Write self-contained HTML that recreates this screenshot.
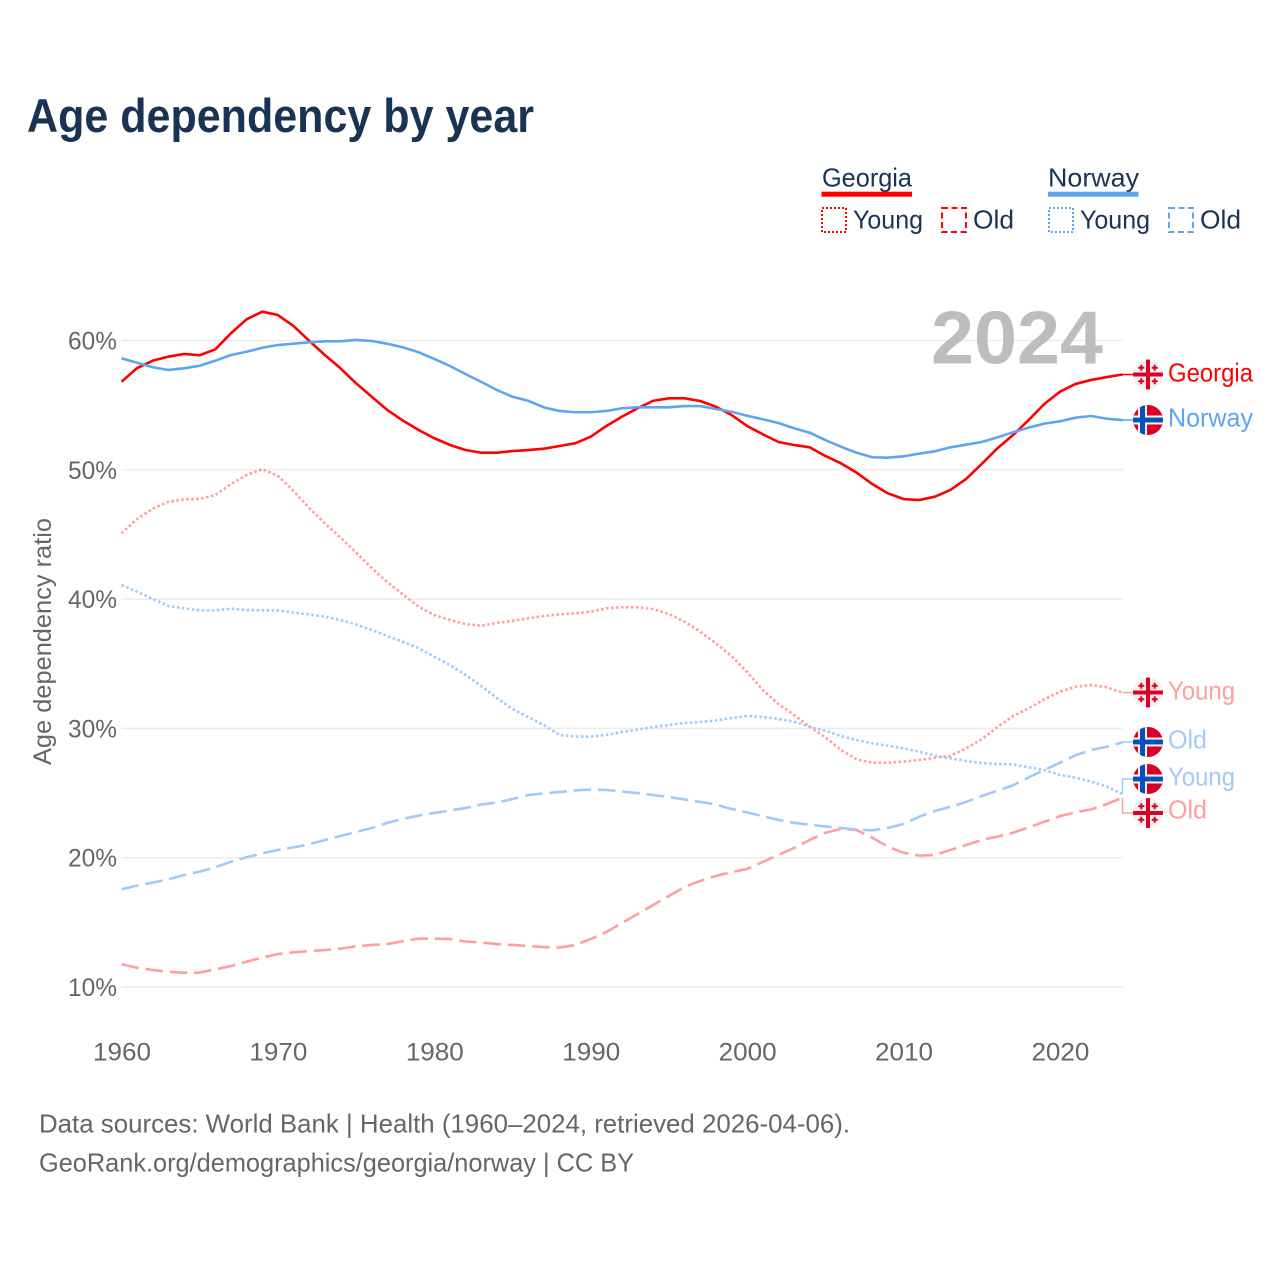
<!DOCTYPE html>
<html lang="en">
<head>
<meta charset="utf-8">
<title>Age dependency by year</title>
<style>
html,body{margin:0;padding:0;background:#fff}
svg{display:block}
text{font-family:"Liberation Sans",sans-serif}
</style>
</head>
<body>
<svg id="chart" xmlns="http://www.w3.org/2000/svg" width="1280" height="1280" viewBox="0 0 1280 1280">
  <defs>
    <clipPath id="flag-clip"><circle cx="0" cy="0" r="15"/></clipPath>
    <g id="flag-georgia" clip-path="url(#flag-clip)">
      <rect x="-15" y="-15" width="30" height="30" fill="#f0f0f0"/>
      <rect x="-2" y="-15" width="4" height="30" fill="#d80027"/>
      <rect x="-15" y="-2" width="30" height="4" fill="#d80027"/>
      <path d="M-7.7-9.7h2v2h2v2h-2v2h-2v-2h-2v-2h2zM5.7-9.7h2v2h2v2h-2v2h-2v-2h-2v-2h2zM-7.7 3.7h2v2h2v2h-2v2h-2v-2h-2v-2h2zM5.7 3.7h2v2h2v2h-2v2h-2v-2h-2v-2h2z" fill="#d80027"/>
    </g>
    <g id="flag-norway" clip-path="url(#flag-clip)">
      <rect x="-15" y="-15" width="30" height="30" fill="#d80027"/>
      <rect x="-10" y="-15" width="9" height="30" fill="#f0f0f0"/>
      <rect x="-15" y="-4.5" width="30" height="9" fill="#f0f0f0"/>
      <rect x="-8" y="-15" width="5" height="30" fill="#0052b4"/>
      <rect x="-15" y="-2.4" width="30" height="4.8" fill="#0052b4"/>
    </g>
  </defs>

  <text x="27" y="132" font-size="47" font-weight="700" fill="#1a3353" textLength="507" lengthAdjust="spacingAndGlyphs">Age dependency by year</text>

  <g>
    <g>
      <text x="822" y="186.5" font-size="26" fill="#1a3353" textLength="90" lengthAdjust="spacingAndGlyphs">Georgia</text>
      <rect x="821.5" y="191.7" width="90.5" height="5" fill="#ff0000"/>
      <rect x="822" y="208" width="24" height="24" fill="none" stroke="#ff0000" stroke-width="2" stroke-dasharray="2 2"/>
      <text x="853" y="228.5" font-size="26" fill="#1a3353" textLength="70" lengthAdjust="spacingAndGlyphs">Young</text>
      <rect x="942" y="208" width="24" height="24" fill="none" stroke="#ff0000" stroke-width="2" stroke-dasharray="6 3.5"/>
      <text x="973" y="228.5" font-size="26" fill="#1a3353" textLength="41" lengthAdjust="spacingAndGlyphs">Old</text>
    </g>
    <g>
      <text x="1048" y="186.5" font-size="26" fill="#1a3353" textLength="91" lengthAdjust="spacingAndGlyphs">Norway</text>
      <rect x="1048" y="191.7" width="90.5" height="5" fill="#5fa5ee"/>
      <rect x="1049" y="208" width="24" height="24" fill="none" stroke="#5fa5ee" stroke-width="2" stroke-dasharray="2 2"/>
      <text x="1080" y="228.5" font-size="26" fill="#1a3353" textLength="70" lengthAdjust="spacingAndGlyphs">Young</text>
      <rect x="1169" y="208" width="24" height="24" fill="none" stroke="#5fa5ee" stroke-width="2" stroke-dasharray="6 3.5"/>
      <text x="1200" y="228.5" font-size="26" fill="#1a3353" textLength="41" lengthAdjust="spacingAndGlyphs">Old</text>
    </g>
  </g>

  <g id="grid"></g>
  <g id="y-ticks"></g>
  <g id="x-ticks"></g>

  <text transform="translate(51 641.5) rotate(-90)" text-anchor="middle" font-size="25" fill="#666666" textLength="247" lengthAdjust="spacingAndGlyphs">Age dependency ratio</text>

  <text x="931" y="363.5" font-size="75" font-weight="700" fill="#bdbdbd" textLength="172" lengthAdjust="spacingAndGlyphs">2024</text>

  <g id="series"></g>

  <g>
    <use href="#flag-georgia" x="1148" y="374.5"/>
    <text x="1168" y="381.5" font-size="26" fill="#ff0000" textLength="85" lengthAdjust="spacingAndGlyphs">Georgia</text>
    <use href="#flag-norway" x="1148" y="420"/>
    <text x="1168" y="426.5" font-size="26" fill="#5fa5ee" textLength="85" lengthAdjust="spacingAndGlyphs">Norway</text>
    <use href="#flag-georgia" x="1148" y="692.5"/>
    <text x="1168" y="699.5" font-size="26" fill="#ff9f9f" textLength="67" lengthAdjust="spacingAndGlyphs">Young</text>
    <use href="#flag-norway" x="1148" y="742"/>
    <text x="1168" y="748.5" font-size="26" fill="#a3c9f5" textLength="39" lengthAdjust="spacingAndGlyphs">Old</text>
    <use href="#flag-norway" x="1148" y="779"/>
    <text x="1168" y="785.5" font-size="26" fill="#a3c9f5" textLength="67" lengthAdjust="spacingAndGlyphs">Young</text>
    <use href="#flag-georgia" x="1148" y="813"/>
    <text x="1168" y="818.5" font-size="26" fill="#ff9f9f" textLength="39" lengthAdjust="spacingAndGlyphs">Old</text>
  </g>

  <text x="39" y="1132.5" font-size="26" fill="#666666" textLength="811" lengthAdjust="spacingAndGlyphs">Data sources: World Bank | Health (1960–2024, retrieved 2026-04-06).</text>
  <text x="39" y="1171.5" font-size="26" fill="#666666" textLength="595" lengthAdjust="spacingAndGlyphs">GeoRank.org/demographics/georgia/norway | CC BY</text>
</svg>

<script>
const years = [1960,1961,1962,1963,1964,1965,1966,1967,1968,1969,1970,1971,1972,1973,1974,1975,1976,1977,1978,1979,1980,1981,1982,1983,1984,1985,1986,1987,1988,1989,1990,1991,1992,1993,1994,1995,1996,1997,1998,1999,2000,2001,2002,2003,2004,2005,2006,2007,2008,2009,2010,2011,2012,2013,2014,2015,2016,2017,2018,2019,2020,2021,2022,2023,2024];
const yTickValues = [10,20,30,40,50,60];
const xTickValues = [1960,1970,1980,1990,2000,2010,2020];

const georgiaTotal = [56.81,57.87,58.44,58.75,58.96,58.86,59.32,60.56,61.64,62.23,61.97,61.12,59.98,58.88,57.85,56.69,55.65,54.62,53.80,53.08,52.44,51.92,51.53,51.32,51.32,51.45,51.53,51.63,51.84,52.05,52.56,53.39,54.11,54.76,55.34,55.53,55.53,55.32,54.88,54.24,53.39,52.75,52.15,51.92,51.74,51.07,50.50,49.78,48.90,48.18,47.74,47.66,47.92,48.44,49.29,50.45,51.66,52.69,53.85,55.09,56.04,56.64,56.95,57.17,57.37];
const norwayTotal = [58.62,58.28,57.93,57.72,57.85,58.05,58.44,58.88,59.13,59.44,59.65,59.75,59.86,59.94,59.94,60.04,59.96,59.75,59.47,59.09,58.57,58.03,57.40,56.80,56.17,55.65,55.34,54.83,54.55,54.45,54.45,54.55,54.76,54.83,54.83,54.83,54.93,54.93,54.70,54.49,54.18,53.91,53.62,53.21,52.87,52.30,51.79,51.32,50.97,50.94,51.04,51.25,51.43,51.74,51.94,52.15,52.51,52.90,53.26,53.57,53.75,54.03,54.16,53.95,53.85];
const georgiaYoung = [45.09,46.20,47.00,47.53,47.72,47.74,48.05,48.90,49.60,50.04,49.54,48.36,47.05,45.86,44.75,43.60,42.40,41.30,40.35,39.41,38.77,38.38,38.07,37.94,38.17,38.31,38.52,38.69,38.82,38.90,39.03,39.29,39.37,39.37,39.23,38.85,38.25,37.48,36.58,35.60,34.36,32.97,31.89,31.04,30.13,29.31,28.33,27.61,27.35,27.35,27.43,27.56,27.73,27.87,28.46,29.16,30.09,30.96,31.55,32.25,32.84,33.22,33.36,33.18,32.76];
const norwayYoung = [41.09,40.57,40.01,39.47,39.29,39.13,39.13,39.26,39.16,39.13,39.13,38.95,38.82,38.64,38.38,38.05,37.61,37.14,36.70,36.19,35.55,34.90,34.13,33.28,32.35,31.50,30.88,30.26,29.49,29.37,29.37,29.49,29.72,29.91,30.11,30.26,30.42,30.50,30.61,30.80,30.96,30.88,30.73,30.52,30.13,29.82,29.41,29.10,28.85,28.66,28.46,28.20,27.89,27.69,27.48,27.32,27.25,27.22,26.99,26.78,26.40,26.19,25.88,25.49,24.93];
const georgiaOld = [11.76,11.49,11.31,11.18,11.11,11.11,11.37,11.62,11.96,12.27,12.55,12.68,12.78,12.86,12.96,13.15,13.25,13.32,13.55,13.74,13.74,13.71,13.52,13.44,13.32,13.25,13.17,13.09,13.05,13.25,13.71,14.25,14.95,15.65,16.34,17.04,17.74,18.20,18.59,18.89,19.13,19.67,20.21,20.75,21.37,21.93,22.22,22.14,21.55,20.85,20.39,20.16,20.21,20.60,20.98,21.37,21.63,21.93,22.35,22.78,23.22,23.51,23.74,24.15,24.64];
const norwayOld = [17.56,17.84,18.07,18.33,18.66,18.92,19.26,19.69,20.03,20.34,20.60,20.80,21.04,21.37,21.68,21.99,22.30,22.69,23.00,23.26,23.46,23.65,23.84,24.11,24.27,24.54,24.85,24.97,25.08,25.20,25.27,25.24,25.12,25.00,24.85,24.69,24.50,24.31,24.11,23.77,23.50,23.22,22.92,22.70,22.55,22.42,22.30,22.16,22.12,22.30,22.61,23.17,23.61,23.94,24.31,24.77,25.18,25.60,26.22,26.78,27.35,27.92,28.33,28.58,28.92];

const NS = 'http://www.w3.org/2000/svg';
const xAt = function (year) { return 121.5 + (year - 1960) * (1001 / 64); };
const yAt = function (pct) { return 340.5 + (60 - pct) * 12.93; };

const gridGroup = document.getElementById('grid');
const yTickGroup = document.getElementById('y-ticks');
const xTickGroup = document.getElementById('x-ticks');
const seriesGroup = document.getElementById('series');

yTickValues.forEach(function (v) {
  const line = document.createElementNS(NS, 'line');
  
  
  line.setAttribute('x1', 121.5);
  line.setAttribute('x2', xAt(2024));
  line.setAttribute('y1', yAt(v));
  line.setAttribute('y2', yAt(v));
  line.setAttribute('stroke', '#ececec');
  line.setAttribute('stroke-width', '1.5');
  gridGroup.appendChild(line);

  const label = document.createElementNS(NS, 'text');
  
  
  label.setAttribute('x', 117);
  label.setAttribute('y', yAt(v) + 9);
  label.setAttribute('text-anchor', 'end');
  label.setAttribute('font-size', '25');
  label.setAttribute('fill', '#666666');
  label.setAttribute('textLength', '49');
  label.setAttribute('lengthAdjust', 'spacingAndGlyphs');
  label.textContent = v + '%';
  yTickGroup.appendChild(label);
});

xTickValues.forEach(function (yr) {
  const label = document.createElementNS(NS, 'text');
  
  
  label.setAttribute('x', xAt(yr) + 0.5);
  label.setAttribute('y', 1060.5);
  label.setAttribute('text-anchor', 'middle');
  label.setAttribute('font-size', '25');
  label.setAttribute('fill', '#666666');
  label.setAttribute('textLength', '58');
  label.setAttribute('lengthAdjust', 'spacingAndGlyphs');
  label.textContent = yr;
  xTickGroup.appendChild(label);
});

function drawSeries(name, values, color, dash, width) {
  const path = document.createElementNS(NS, 'path');
  
  
  path.setAttribute('d', values.map(function (v, i) {
    return (i ? 'L' : 'M') + xAt(years[i]).toFixed(2) + ' ' + yAt(v).toFixed(2);
  }).join(''));
  path.setAttribute('fill', 'none');
  path.setAttribute('stroke', color);
  path.setAttribute('stroke-width', width);
  path.setAttribute('stroke-linejoin', 'round');
  if (dash) path.setAttribute('stroke-dasharray', dash);
  seriesGroup.appendChild(path);
}

function drawConnector(name, value, labelY, color, width) {
  const endX = xAt(2024);
  const endY = yAt(value);
  const path = document.createElementNS(NS, 'path');
  
  
  path.setAttribute('d', 'M' + endX + ' ' + endY + 'L' + endX + ' ' + labelY + 'L1134 ' + labelY);
  path.setAttribute('fill', 'none');
  path.setAttribute('stroke', color);
  path.setAttribute('stroke-width', width);
  seriesGroup.appendChild(path);
}

drawSeries('line-georgia-young', georgiaYoung, '#ff9f9f', '2.6 2.4', 2.6);
drawSeries('line-norway-young', norwayYoung, '#a3c9f5', '2.6 2.4', 2.6);
drawSeries('line-georgia-old', georgiaOld, '#ff9f9f', '17.6 6.8', 2.6);
drawSeries('line-norway-old', norwayOld, '#a3c9f5', '17.6 6.8', 2.6);
drawSeries('line-georgia-total', georgiaTotal, '#ff0000', null, 2.6);
drawSeries('line-norway-total', norwayTotal, '#5fa5ee', null, 2.6);

drawConnector('connector-georgia-total', georgiaTotal[64], 374.5, '#ff0000', 1.5);
drawConnector('connector-norway-total', norwayTotal[64], 420, '#5fa5ee', 1.5);
drawConnector('connector-georgia-young', georgiaYoung[64], 692.5, '#ff9f9f', 1.5);
drawConnector('connector-norway-old', norwayOld[64], 742, '#a3c9f5', 1.5);
drawConnector('connector-norway-young', norwayYoung[64], 779, '#a3c9f5', 1.5);
drawConnector('connector-georgia-old', georgiaOld[64], 813, '#ff9f9f', 1.5);
</script>
</body>
</html>
